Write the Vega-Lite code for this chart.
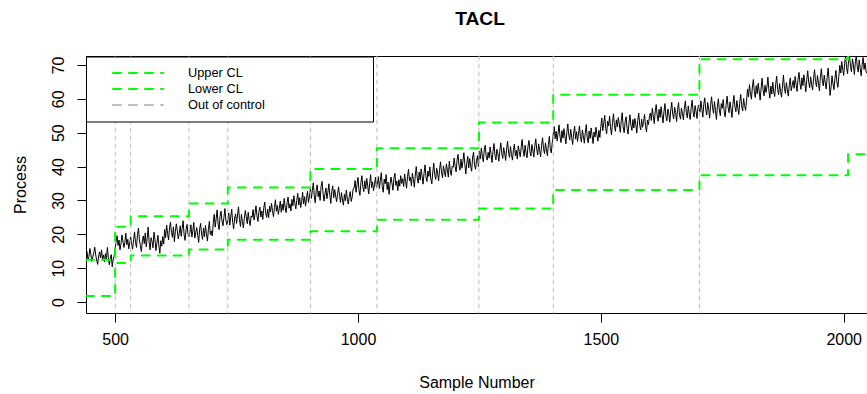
{
 "$schema": "https://vega.github.io/schema/vega-lite/v6.json",
 "width": 781,
 "height": 257,
 "autosize": "none",
 "padding": {"left": 86, "top": 56, "right": 0, "bottom": 81},
 "title": {"text": "TACL", "fontSize": 19.2, "fontWeight": "bold", "font": "Liberation Sans", "color": "black", "anchor": "middle", "dx": 3.5, "baseline": "alphabetic", "offset": 11},
 "datasets": {
  "proc": [
   {"t":440,"v":13.8},{"t":442,"v":14.9},{"t":444,"v":12.6},{"t":446,"v":13.4},{"t":448,"v":15.8},{"t":450,"v":14.1},{"t":452,"v":12.0},{"t":454,"v":13.3},{"t":456,"v":14.6},{"t":458,"v":16.2},{"t":460,"v":13.9},{"t":462,"v":12.4},{"t":464,"v":11.1},{"t":466,"v":13.6},{"t":468,"v":14.8},{"t":470,"v":13.0},{"t":472,"v":15.4},{"t":474,"v":12.7},{"t":476,"v":13.9},{"t":478,"v":11.8},{"t":480,"v":14.3},{"t":482,"v":12.5},{"t":484,"v":16.1},{"t":486,"v":13.2},{"t":488,"v":11.0},{"t":490,"v":12.9},{"t":492,"v":14.0},{"t":494,"v":10.4},{"t":496,"v":12.6},{"t":498,"v":13.5},
   {"t":500,"v":15.8},{"t":502,"v":17.9},{"t":504,"v":19.6},{"t":506,"v":16.7},{"t":508,"v":18.3},{"t":510,"v":15.4},{"t":512,"v":17.2},{"t":514,"v":19.8},{"t":516,"v":18.0},{"t":518,"v":16.1},{"t":520,"v":17.6},{"t":522,"v":20.3},{"t":524,"v":16.9},{"t":526,"v":18.5},{"t":528,"v":15.7},{"t":530,"v":17.4},
   {"t":532,"v":19.2},{"t":534,"v":17.0},{"t":536,"v":15.6},{"t":538,"v":18.4},{"t":540,"v":20.7},{"t":542,"v":17.5},{"t":544,"v":16.1},{"t":546,"v":19.9},{"t":548,"v":21.8},{"t":550,"v":18.3},{"t":552,"v":16.6},{"t":554,"v":14.9},{"t":556,"v":18.0},{"t":558,"v":19.5},{"t":560,"v":17.2},{"t":562,"v":20.4},{"t":564,"v":16.3},{"t":566,"v":18.8},{"t":568,"v":22.1},{"t":570,"v":17.7},{"t":572,"v":15.4},{"t":574,"v":19.0},{"t":576,"v":17.9},{"t":578,"v":16.0},{"t":580,"v":20.6},{"t":582,"v":18.5},{"t":584,"v":15.2},{"t":586,"v":17.4},{"t":588,"v":19.7},{"t":590,"v":16.8},{"t":592,"v":14.4},{"t":594,"v":18.1},{"t":596,"v":16.5},{"t":598,"v":19.3},{"t":600,"v":17.1},
   {"t":602,"v":21.4},{"t":604,"v":19.0},{"t":606,"v":22.7},{"t":608,"v":20.2},{"t":610,"v":18.3},{"t":612,"v":21.9},{"t":614,"v":23.6},{"t":616,"v":20.5},{"t":618,"v":19.1},{"t":620,"v":22.2},{"t":622,"v":17.8},{"t":624,"v":20.9},{"t":626,"v":23.1},{"t":628,"v":21.0},{"t":630,"v":18.6},{"t":632,"v":20.3},{"t":634,"v":22.5},{"t":636,"v":19.4},{"t":638,"v":21.7},{"t":640,"v":24.0},{"t":642,"v":19.8},{"t":644,"v":18.2},{"t":646,"v":21.3},{"t":648,"v":22.9},{"t":650,"v":20.1},{"t":652,"v":19.3},
   {"t":654,"v":20.6},{"t":656,"v":22.8},{"t":658,"v":19.2},{"t":660,"v":21.1},{"t":662,"v":23.5},{"t":664,"v":18.9},{"t":666,"v":20.4},{"t":668,"v":22.0},{"t":670,"v":19.7},{"t":672,"v":17.6},{"t":674,"v":21.5},{"t":676,"v":23.2},{"t":678,"v":20.0},{"t":680,"v":18.5},{"t":682,"v":21.8},{"t":684,"v":19.3},{"t":686,"v":22.6},{"t":688,"v":20.2},{"t":690,"v":18.0},{"t":692,"v":21.4},{"t":694,"v":23.8},{"t":696,"v":19.9},{"t":698,"v":21.0},{"t":700,"v":19.5},
   {"t":702,"v":23.4},{"t":704,"v":25.9},{"t":706,"v":22.1},{"t":708,"v":24.6},{"t":710,"v":27.2},{"t":712,"v":23.0},{"t":714,"v":21.4},{"t":716,"v":25.3},{"t":718,"v":26.8},{"t":720,"v":23.9},{"t":722,"v":22.5},{"t":724,"v":25.0},{"t":726,"v":27.6},{"t":728,"v":24.2},{"t":730,"v":22.8},
   {"t":732,"v":24.0},{"t":734,"v":26.3},{"t":736,"v":22.7},{"t":738,"v":25.1},{"t":740,"v":27.4},{"t":742,"v":23.5},{"t":744,"v":21.6},{"t":746,"v":24.8},{"t":748,"v":26.0},{"t":750,"v":23.2},{"t":752,"v":25.7},{"t":754,"v":28.1},{"t":756,"v":24.4},{"t":758,"v":22.3},{"t":760,"v":25.9},{"t":762,"v":23.8},{"t":764,"v":21.9},{"t":766,"v":24.7},{"t":768,"v":27.0},{"t":770,"v":25.2},{"t":772,"v":23.1},{"t":774,"v":26.5},{"t":776,"v":24.1},{"t":778,"v":22.6},{"t":780,"v":25.4},
   {"t":782,"v":25.0},{"t":784,"v":27.3},{"t":786,"v":24.2},{"t":788,"v":26.1},{"t":790,"v":28.4},{"t":792,"v":25.5},{"t":794,"v":23.8},{"t":796,"v":26.7},{"t":798,"v":28.0},{"t":800,"v":25.1},
   {"t":802,"v":26.9},{"t":804,"v":24.4},{"t":806,"v":27.8},{"t":808,"v":29.5},{"t":810,"v":26.2},{"t":812,"v":25.0},{"t":814,"v":27.4},{"t":816,"v":24.9},{"t":818,"v":28.3},{"t":820,"v":26.6},
   {"t":822,"v":29.1},{"t":824,"v":27.0},{"t":826,"v":25.2},{"t":828,"v":27.9},{"t":830,"v":30.2},{"t":832,"v":26.8},{"t":834,"v":28.5},{"t":836,"v":25.9},{"t":838,"v":27.6},{"t":840,"v":29.8},
   {"t":842,"v":26.5},{"t":844,"v":28.9},{"t":846,"v":27.1},{"t":848,"v":30.6},{"t":850,"v":28.0},{"t":852,"v":26.4},{"t":854,"v":29.3},{"t":856,"v":31.0},{"t":858,"v":27.7},{"t":860,"v":29.0},
   {"t":862,"v":26.9},{"t":864,"v":30.3},{"t":866,"v":28.4},{"t":868,"v":31.4},{"t":870,"v":29.2},{"t":872,"v":27.5},{"t":874,"v":30.0},{"t":876,"v":32.1},{"t":878,"v":28.6},{"t":880,"v":30.8},
   {"t":882,"v":27.9},{"t":884,"v":29.7},{"t":886,"v":32.4},{"t":888,"v":29.0},{"t":890,"v":31.1},{"t":892,"v":28.3},{"t":894,"v":30.5},{"t":896,"v":32.7},{"t":898,"v":29.4},{"t":900,"v":31.0},
   {"t":902,"v":33.5},{"t":904,"v":30.6},{"t":906,"v":32.9},{"t":908,"v":35.2},{"t":910,"v":31.4},{"t":912,"v":29.3},{"t":914,"v":33.0},{"t":916,"v":34.6},{"t":918,"v":31.1},{"t":920,"v":32.8},
   {"t":922,"v":30.0},{"t":924,"v":34.1},{"t":926,"v":35.6},{"t":928,"v":32.2},{"t":930,"v":29.8},{"t":932,"v":31.9},{"t":934,"v":33.7},{"t":936,"v":30.5},{"t":938,"v":32.4},{"t":940,"v":34.9},
   {"t":942,"v":31.6},{"t":944,"v":29.1},{"t":946,"v":32.7},{"t":948,"v":34.3},{"t":950,"v":30.8},{"t":952,"v":33.2},{"t":954,"v":31.3},{"t":956,"v":29.6},{"t":958,"v":32.0},{"t":960,"v":34.0},
   {"t":962,"v":31.5},{"t":964,"v":29.4},{"t":966,"v":32.3},{"t":968,"v":30.1},{"t":970,"v":28.6},{"t":972,"v":31.8},{"t":974,"v":29.9},{"t":976,"v":33.0},{"t":978,"v":30.4},{"t":980,"v":28.9},{"t":982,"v":31.2},{"t":984,"v":32.6},{"t":986,"v":29.7},{"t":988,"v":31.0},{"t":990,"v":33.4},
   {"t":992,"v":33.6},{"t":994,"v":35.9},{"t":996,"v":32.4},{"t":998,"v":34.7},{"t":1000,"v":36.8},{"t":1002,"v":33.1},{"t":1004,"v":31.5},{"t":1006,"v":35.2},{"t":1008,"v":37.3},{"t":1010,"v":34.0},{"t":1012,"v":32.6},{"t":1014,"v":35.8},{"t":1016,"v":33.4},{"t":1018,"v":36.5},{"t":1020,"v":34.3},{"t":1022,"v":31.9},{"t":1024,"v":35.0},{"t":1026,"v":37.6},{"t":1028,"v":33.8},{"t":1030,"v":35.5},{"t":1032,"v":32.9},{"t":1034,"v":34.6},{"t":1036,"v":36.9},{"t":1038,"v":33.7},
   {"t":1040,"v":34.8},{"t":1042,"v":37.0},{"t":1044,"v":33.5},{"t":1046,"v":35.9},{"t":1048,"v":38.2},{"t":1050,"v":34.1},{"t":1052,"v":32.4},{"t":1054,"v":36.3},{"t":1056,"v":34.9},{"t":1058,"v":37.6},{"t":1060,"v":33.2},{"t":1062,"v":35.4},{"t":1064,"v":31.8},{"t":1066,"v":34.6},{"t":1068,"v":36.9},{"t":1070,"v":35.1},{"t":1072,"v":33.0},{"t":1074,"v":36.5},{"t":1076,"v":38.0},{"t":1078,"v":34.4},{"t":1080,"v":35.7},{"t":1082,"v":32.9},{"t":1084,"v":36.1},{"t":1086,"v":34.2},{"t":1088,"v":37.3},{"t":1090,"v":35.0},
   {"t":1092,"v":36.4},{"t":1094,"v":34.1},{"t":1096,"v":37.8},{"t":1098,"v":35.5},{"t":1100,"v":33.6},{"t":1102,"v":37.0},{"t":1104,"v":39.2},{"t":1106,"v":35.8},{"t":1108,"v":36.9},{"t":1110,"v":34.3},
   {"t":1112,"v":38.1},{"t":1114,"v":36.2},{"t":1116,"v":33.9},{"t":1118,"v":37.5},{"t":1120,"v":40.0},{"t":1122,"v":36.6},{"t":1124,"v":35.1},{"t":1126,"v":38.4},{"t":1128,"v":36.0},{"t":1130,"v":39.3},
   {"t":1132,"v":37.2},{"t":1134,"v":34.8},{"t":1136,"v":38.0},{"t":1138,"v":40.5},{"t":1140,"v":36.9},{"t":1142,"v":35.6},{"t":1144,"v":38.7},{"t":1146,"v":37.1},{"t":1148,"v":39.9},{"t":1150,"v":36.3},
   {"t":1152,"v":34.9},{"t":1154,"v":38.4},{"t":1156,"v":41.0},{"t":1158,"v":37.6},{"t":1160,"v":36.2},{"t":1162,"v":39.5},{"t":1164,"v":37.9},{"t":1166,"v":35.8},{"t":1168,"v":39.1},{"t":1170,"v":41.4},
   {"t":1172,"v":38.2},{"t":1174,"v":36.7},{"t":1176,"v":40.2},{"t":1178,"v":38.5},{"t":1180,"v":37.0},{"t":1182,"v":40.8},{"t":1184,"v":39.0},{"t":1186,"v":36.9},{"t":1188,"v":41.6},{"t":1190,"v":38.8},
   {"t":1192,"v":37.4},{"t":1194,"v":40.1},
   {"t":1196,"v":39.8},{"t":1198,"v":42.5},{"t":1200,"v":40.0},{"t":1202,"v":38.4},{"t":1204,"v":41.9},{"t":1206,"v":43.6},{"t":1208,"v":40.3},{"t":1210,"v":38.9},{"t":1212,"v":42.2},{"t":1214,"v":39.5},{"t":1216,"v":41.4},{"t":1218,"v":44.1},{"t":1220,"v":40.7},{"t":1222,"v":37.8},{"t":1224,"v":41.0},{"t":1226,"v":43.0},{"t":1228,"v":39.6},{"t":1230,"v":42.4},{"t":1232,"v":40.1},{"t":1234,"v":38.6},{"t":1236,"v":42.8},{"t":1238,"v":44.3},{"t":1240,"v":40.5},{"t":1242,"v":39.2},{"t":1244,"v":41.7},{"t":1246,"v":43.2},{"t":1248,"v":40.0},
   {"t":1250,"v":44.6},{"t":1252,"v":42.3},{"t":1254,"v":45.5},{"t":1256,"v":43.1},{"t":1258,"v":41.4},{"t":1260,"v":44.9},{"t":1262,"v":46.3},{"t":1264,"v":43.0},{"t":1266,"v":41.9},{"t":1268,"v":44.2},
   {"t":1270,"v":42.5},{"t":1272,"v":45.8},{"t":1274,"v":43.6},{"t":1276,"v":41.2},{"t":1278,"v":44.5},{"t":1280,"v":46.8},{"t":1282,"v":43.3},{"t":1284,"v":42.0},{"t":1286,"v":45.1},{"t":1288,"v":43.8},
   {"t":1290,"v":41.6},{"t":1292,"v":44.7},{"t":1294,"v":47.0},{"t":1296,"v":43.9},{"t":1298,"v":42.4},{"t":1300,"v":45.6},{"t":1302,"v":44.0},{"t":1304,"v":41.8},{"t":1306,"v":45.2},{"t":1308,"v":47.5},
   {"t":1310,"v":44.3},{"t":1312,"v":42.7},{"t":1314,"v":45.9},{"t":1316,"v":43.5},{"t":1318,"v":41.9},{"t":1320,"v":45.0},{"t":1322,"v":46.6},{"t":1324,"v":43.2},{"t":1326,"v":44.8},{"t":1328,"v":42.2},
   {"t":1330,"v":46.1},{"t":1332,"v":44.5},{"t":1334,"v":42.9},{"t":1336,"v":45.7},{"t":1338,"v":48.0},{"t":1340,"v":44.6},{"t":1342,"v":43.0},{"t":1344,"v":46.3},{"t":1346,"v":44.1},{"t":1348,"v":42.6},
   {"t":1350,"v":45.9},{"t":1352,"v":47.7},{"t":1354,"v":44.4},{"t":1356,"v":43.1},{"t":1358,"v":46.5},{"t":1360,"v":44.9},{"t":1362,"v":42.8},{"t":1364,"v":46.0},{"t":1366,"v":48.2},{"t":1368,"v":45.1},
   {"t":1370,"v":43.4},{"t":1372,"v":46.7},{"t":1374,"v":44.8},{"t":1376,"v":42.9},{"t":1378,"v":46.2},{"t":1380,"v":48.5},{"t":1382,"v":45.3},{"t":1384,"v":43.8},{"t":1386,"v":47.0},{"t":1388,"v":44.9},
   {"t":1390,"v":43.2},{"t":1392,"v":46.6},{"t":1394,"v":48.9},{"t":1396,"v":45.4},{"t":1398,"v":44.0},{"t":1400,"v":47.1},
   {"t":1402,"v":49.5},{"t":1404,"v":51.8},{"t":1406,"v":48.2},{"t":1408,"v":50.4},{"t":1410,"v":47.6},{"t":1412,"v":49.9},{"t":1414,"v":52.3},{"t":1416,"v":48.8},{"t":1418,"v":47.1},{"t":1420,"v":50.6},
   {"t":1422,"v":48.4},{"t":1424,"v":51.2},{"t":1426,"v":49.0},{"t":1428,"v":46.7},{"t":1430,"v":50.1},{"t":1432,"v":52.6},{"t":1434,"v":49.3},{"t":1436,"v":47.9},{"t":1438,"v":51.0},{"t":1440,"v":48.6},
   {"t":1442,"v":46.5},{"t":1444,"v":49.8},{"t":1446,"v":51.9},{"t":1448,"v":48.1},{"t":1450,"v":50.3},{"t":1452,"v":47.4},{"t":1454,"v":49.6},{"t":1456,"v":52.0},{"t":1458,"v":48.9},{"t":1460,"v":47.2},
   {"t":1462,"v":50.8},{"t":1464,"v":49.1},{"t":1466,"v":46.9},{"t":1468,"v":50.0},{"t":1470,"v":52.4},{"t":1472,"v":48.5},{"t":1474,"v":47.0},{"t":1476,"v":50.5},{"t":1478,"v":48.3},{"t":1480,"v":51.4},
   {"t":1482,"v":49.2},{"t":1484,"v":46.8},{"t":1486,"v":50.2},{"t":1488,"v":48.7},{"t":1490,"v":51.6},{"t":1492,"v":49.4},{"t":1494,"v":47.5},{"t":1496,"v":50.7},{"t":1498,"v":48.6},
   {"t":1500,"v":51.9},{"t":1502,"v":54.3},{"t":1504,"v":50.6},{"t":1506,"v":52.8},{"t":1508,"v":55.1},{"t":1510,"v":51.2},{"t":1512,"v":49.7},{"t":1514,"v":53.4},{"t":1516,"v":52.0},{"t":1518,"v":54.9},
   {"t":1520,"v":51.5},{"t":1522,"v":49.3},{"t":1524,"v":53.0},{"t":1526,"v":55.6},{"t":1528,"v":52.2},{"t":1530,"v":50.4},{"t":1532,"v":53.8},{"t":1534,"v":51.7},{"t":1536,"v":54.5},{"t":1538,"v":52.6},
   {"t":1540,"v":50.1},{"t":1542,"v":53.5},{"t":1544,"v":55.9},{"t":1546,"v":51.8},{"t":1548,"v":50.0},{"t":1550,"v":53.2},{"t":1552,"v":54.7},{"t":1554,"v":51.3},{"t":1556,"v":49.6},{"t":1558,"v":52.9},
   {"t":1560,"v":55.3},{"t":1562,"v":52.1},{"t":1564,"v":50.7},{"t":1566,"v":53.9},{"t":1568,"v":51.4},{"t":1570,"v":54.2},{"t":1572,"v":52.5},{"t":1574,"v":49.9},{"t":1576,"v":53.6},{"t":1578,"v":55.8},
   {"t":1580,"v":52.3},{"t":1582,"v":50.8},{"t":1584,"v":54.0},{"t":1586,"v":51.6},{"t":1588,"v":53.3},{"t":1590,"v":55.4},{"t":1592,"v":51.9},{"t":1594,"v":50.2},{"t":1596,"v":53.7},{"t":1598,"v":52.4},
   {"t":1600,"v":54.6},
   {"t":1602,"v":55.8},{"t":1604,"v":53.6},{"t":1606,"v":57.2},{"t":1608,"v":54.9},{"t":1610,"v":52.7},{"t":1612,"v":56.4},{"t":1614,"v":58.3},{"t":1616,"v":55.0},{"t":1618,"v":53.4},{"t":1620,"v":56.9},
   {"t":1622,"v":54.5},{"t":1624,"v":57.7},{"t":1626,"v":55.3},{"t":1628,"v":52.9},{"t":1630,"v":56.2},{"t":1632,"v":58.6},{"t":1634,"v":54.8},{"t":1636,"v":53.5},{"t":1638,"v":57.0},{"t":1640,"v":55.6},
   {"t":1642,"v":53.1},{"t":1644,"v":56.7},{"t":1646,"v":59.0},{"t":1648,"v":55.4},{"t":1650,"v":54.1},{"t":1652,"v":57.5},{"t":1654,"v":55.9},{"t":1656,"v":53.3},{"t":1658,"v":56.8},{"t":1660,"v":58.9},
   {"t":1662,"v":55.2},{"t":1664,"v":54.0},{"t":1666,"v":57.3},{"t":1668,"v":55.7},{"t":1670,"v":53.8},{"t":1672,"v":57.1},{"t":1674,"v":59.4},{"t":1676,"v":56.0},{"t":1678,"v":54.4},{"t":1680,"v":57.9},
   {"t":1682,"v":55.5},{"t":1684,"v":53.9},{"t":1686,"v":57.4},{"t":1688,"v":59.6},{"t":1690,"v":56.1},{"t":1692,"v":54.6},{"t":1694,"v":58.0},{"t":1696,"v":56.3},{"t":1698,"v":54.2},{"t":1700,"v":57.6},
   {"t":1702,"v":58.2},{"t":1704,"v":56.0},{"t":1706,"v":59.4},{"t":1708,"v":57.1},{"t":1710,"v":54.6},{"t":1712,"v":58.5},{"t":1714,"v":60.3},{"t":1716,"v":56.8},{"t":1718,"v":55.2},{"t":1720,"v":58.9},
   {"t":1722,"v":57.0},{"t":1724,"v":54.3},{"t":1726,"v":58.1},{"t":1728,"v":60.6},{"t":1730,"v":57.4},{"t":1732,"v":55.7},{"t":1734,"v":59.2},{"t":1736,"v":56.5},{"t":1738,"v":53.9},{"t":1740,"v":57.8},
   {"t":1742,"v":60.0},{"t":1744,"v":56.7},{"t":1746,"v":55.0},{"t":1748,"v":58.6},{"t":1750,"v":57.2},{"t":1752,"v":59.8},{"t":1754,"v":56.1},{"t":1756,"v":54.7},{"t":1758,"v":58.3},{"t":1760,"v":60.8},
   {"t":1762,"v":57.5},{"t":1764,"v":55.9},{"t":1766,"v":59.1},{"t":1768,"v":57.0},{"t":1770,"v":54.5},{"t":1772,"v":58.4},{"t":1774,"v":61.0},{"t":1776,"v":57.7},{"t":1778,"v":56.2},{"t":1780,"v":59.5},
   {"t":1782,"v":57.3},{"t":1784,"v":55.4},{"t":1786,"v":59.0},{"t":1788,"v":61.3},{"t":1790,"v":57.9},{"t":1792,"v":56.4},{"t":1794,"v":60.1},{"t":1796,"v":58.0},{"t":1798,"v":56.6},{"t":1800,"v":59.3},
   {"t":1802,"v":62.9},{"t":1804,"v":60.6},{"t":1806,"v":64.2},{"t":1808,"v":61.8},{"t":1810,"v":59.9},{"t":1812,"v":63.5},{"t":1814,"v":65.7},{"t":1816,"v":62.1},{"t":1818,"v":60.4},{"t":1820,"v":63.9},
   {"t":1822,"v":61.5},{"t":1824,"v":64.6},{"t":1826,"v":62.3},{"t":1828,"v":59.6},{"t":1830,"v":63.2},{"t":1832,"v":66.1},{"t":1834,"v":62.7},{"t":1836,"v":60.9},{"t":1838,"v":64.0},{"t":1840,"v":61.9},
   {"t":1842,"v":63.6},{"t":1844,"v":66.4},{"t":1846,"v":62.5},{"t":1848,"v":60.2},{"t":1850,"v":63.8},{"t":1852,"v":61.4},{"t":1854,"v":64.9},{"t":1856,"v":62.0},{"t":1858,"v":60.7},{"t":1860,"v":64.3},
   {"t":1862,"v":66.7},{"t":1864,"v":62.8},{"t":1866,"v":61.2},{"t":1868,"v":64.5},{"t":1870,"v":62.2},{"t":1872,"v":60.5},{"t":1874,"v":63.7},{"t":1876,"v":67.0},{"t":1878,"v":63.1},{"t":1880,"v":61.6},
   {"t":1882,"v":64.8},{"t":1884,"v":62.6},{"t":1886,"v":60.8},{"t":1888,"v":64.1},{"t":1890,"v":66.2},{"t":1892,"v":62.4},{"t":1894,"v":63.9},
   {"t":1896,"v":65.4},{"t":1898,"v":63.1},{"t":1900,"v":66.6},{"t":1902,"v":64.3},{"t":1904,"v":62.2},{"t":1906,"v":65.9},{"t":1908,"v":67.8},{"t":1910,"v":64.5},{"t":1912,"v":62.8},{"t":1914,"v":66.2},
   {"t":1916,"v":63.9},{"t":1918,"v":67.1},{"t":1920,"v":64.8},{"t":1922,"v":62.1},{"t":1924,"v":65.7},{"t":1926,"v":68.3},{"t":1928,"v":64.9},{"t":1930,"v":63.3},{"t":1932,"v":66.5},{"t":1934,"v":64.2},
   {"t":1936,"v":62.6},{"t":1938,"v":66.0},{"t":1940,"v":68.6},{"t":1942,"v":65.1},{"t":1944,"v":63.6},{"t":1946,"v":66.9},{"t":1948,"v":64.6},{"t":1950,"v":62.4},{"t":1952,"v":66.3},{"t":1954,"v":68.9},
   {"t":1956,"v":65.5},{"t":1958,"v":63.8},{"t":1960,"v":67.0},{"t":1962,"v":64.7},{"t":1964,"v":62.9},{"t":1966,"v":66.4},{"t":1968,"v":69.1},{"t":1970,"v":65.2},{"t":1972,"v":61.0},{"t":1974,"v":63.5},
   {"t":1976,"v":66.8},{"t":1978,"v":64.4},{"t":1980,"v":62.7},{"t":1982,"v":66.1},{"t":1984,"v":68.4},{"t":1986,"v":65.0},{"t":1988,"v":63.4},{"t":1990,"v":66.6},
   {"t":1992,"v":69.9},{"t":1994,"v":67.6},{"t":1996,"v":71.0},{"t":1998,"v":68.8},{"t":2000,"v":66.9},{"t":2002,"v":70.5},{"t":2004,"v":72.6},{"t":2006,"v":69.2},{"t":2008,"v":67.4},{"t":2010,"v":71.3},
   {"t":2012,"v":73.0},{"t":2014,"v":69.6},{"t":2016,"v":68.0},{"t":2018,"v":71.8},{"t":2020,"v":70.1},{"t":2022,"v":67.2},{"t":2024,"v":70.9},{"t":2026,"v":72.9},{"t":2028,"v":69.4},{"t":2030,"v":67.9},
   {"t":2032,"v":71.5},{"t":2034,"v":69.0},{"t":2036,"v":66.8},{"t":2038,"v":70.2},{"t":2040,"v":72.2},{"t":2042,"v":68.7},{"t":2044,"v":70.6},{"t":2046,"v":68.2},{"t":2048,"v":67.5}
  ],
  "cl": [
   {"t":440,"v":12.5,"s":"Upper CL"},{"t":500,"v":22.2,"s":"Upper CL"},{"t":532,"v":25.3,"s":"Upper CL"},{"t":652,"v":29.1,"s":"Upper CL"},{"t":732,"v":33.8,"s":"Upper CL"},{"t":902,"v":39.3,"s":"Upper CL"},{"t":1039,"v":45.4,"s":"Upper CL"},{"t":1249,"v":53.0,"s":"Upper CL"},{"t":1402,"v":61.2,"s":"Upper CL"},{"t":1703,"v":71.7,"s":"Upper CL"},{"t":2009,"v":80.0,"s":"Upper CL"},{"t":2048,"v":80.0,"s":"Upper CL"},
   {"t":440,"v":1.8,"s":"Lower CL"},{"t":500,"v":11.5,"s":"Lower CL"},{"t":532,"v":13.7,"s":"Lower CL"},{"t":652,"v":15.5,"s":"Lower CL"},{"t":732,"v":18.4,"s":"Lower CL"},{"t":902,"v":20.9,"s":"Lower CL"},{"t":1039,"v":24.3,"s":"Lower CL"},{"t":1249,"v":27.6,"s":"Lower CL"},{"t":1402,"v":33.1,"s":"Lower CL"},{"t":1703,"v":37.4,"s":"Lower CL"},{"t":2009,"v":43.6,"s":"Lower CL"},{"t":2048,"v":43.6,"s":"Lower CL"}
  ],
  "ooc": [
   {"t":500,"s":"Out of control"},{"t":532,"s":"Out of control"},{"t":652,"s":"Out of control"},{"t":732,"s":"Out of control"},{"t":902,"s":"Out of control"},{"t":1039,"s":"Out of control"},{"t":1249,"s":"Out of control"},{"t":1402,"s":"Out of control"},{"t":1703,"s":"Out of control"}
  ]
 },
 "layer": [
  {
   "data": {"name": "proc"},
   "mark": {"type": "line", "color": "black", "strokeWidth": 1, "clip": true},
   "encoding": {
    "x": {"field": "t", "type": "quantitative", "scale": {"domain": [440, 2048], "nice": false, "zero": false},
          "axis": {"orient": "bottom", "values": [500, 1000, 1500, 2000], "format": "d", "tickSize": 9, "labelBaseline": "alphabetic", "labelPadding": 22.8, "title": "Sample Number", "titleBaseline": "alphabetic", "titlePadding": 40}},
    "y": {"field": "v", "type": "quantitative", "scale": {"domain": [-3.25, 72.65], "nice": false, "zero": false},
          "axis": {"values": [0, 10, 20, 30, 40, 50, 60, 70], "format": "d", "labelOverlap": false, "labelBound": false, "tickSize": 9, "labelAngle": -90, "labelAlign": "center", "labelBaseline": "alphabetic", "labelPadding": 13.8, "title": "Process", "titlePadding": 22}}
   }
  },
  {
   "data": {"name": "ooc"},
   "mark": {"type": "rule", "strokeDash": [4, 4], "strokeWidth": 1, "strokeCap": "round"},
   "encoding": {
    "x": {"field": "t", "type": "quantitative", "axis": {"orient": "top", "labels": false, "ticks": false, "domain": true, "title": null}},
    "color": {"field": "s", "type": "nominal",
              "scale": {"domain": ["Upper CL", "Lower CL", "Out of control"], "range": ["#00ff00", "#00ff00", "#bebebe"]},
              "legend": {"orient": "none", "legendX": 0, "legendY": 0.5, "direction": "vertical", "title": "\u00a0", "titleOrient": "right", "titlePadding": 98, "padding": 9.6, "strokeColor": "black", "fillColor": "white", "symbolType": "M-4.17,0H4.17", "symbolSize": 144, "symbolStrokeWidth": 2, "symbolDash": [8, 8], "symbolOffset": 35.4, "labelOffset": 43, "rowPadding": 2.0, "labelFontSize": 12.8, "labelFont": "Liberation Sans", "labelColor": "black",
                         "encode": {"symbols": {"update": {"strokeCap": {"value": "round"}}}}}}
   }
  },
  {
   "data": {"name": "cl"},
   "mark": {"type": "line", "interpolate": "step-after", "strokeWidth": 2, "strokeDash": [8, 8], "strokeCap": "round", "clip": true},
   "encoding": {
    "x": {"field": "t", "type": "quantitative", "axis": null},
    "y": {"field": "v", "type": "quantitative",
          "axis": {"values": [0, 10, 20, 30, 40, 50, 60, 70], "format": "d", "labelOverlap": false, "labelBound": false, "tickSize": 9, "labelAngle": -90, "labelAlign": "center", "labelBaseline": "alphabetic", "labelPadding": 13.8, "title": "Process", "titlePadding": 22}},
    "color": {"field": "s", "type": "nominal"}
   }
  }
 ],
 "resolve": {"axis": {"x": "independent"}},
 "config": {
  "view": {"stroke": null},
  "axis": {"labelFont": "Liberation Sans", "titleFont": "Liberation Sans", "labelFontSize": 16, "titleFontSize": 16, "labelColor": "black", "titleColor": "black", "titleFontWeight": "normal", "domainColor": "black", "domainWidth": 1, "tickColor": "black", "tickWidth": 1, "grid": false},
  "axisY": {"labelOverlap": false}
 }
}
